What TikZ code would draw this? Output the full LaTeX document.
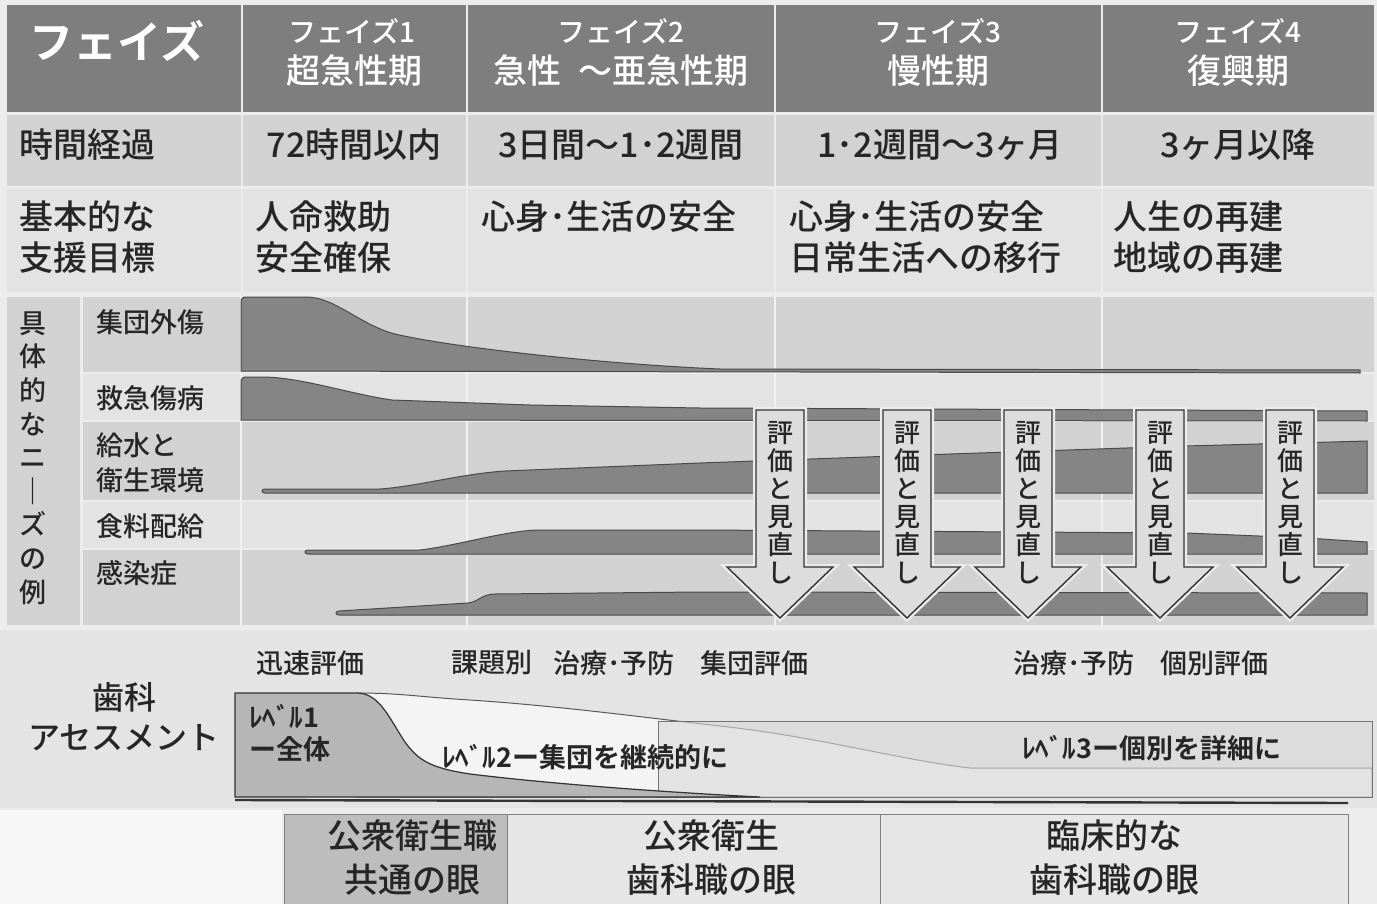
\documentclass[tikz,border=0pt]{standalone}
\usepackage{fontspec}
\setmainfont{Noto Sans CJK JP Medium}[BoldFont={Noto Sans CJK JP Bold}]
\definecolor{bg}{HTML}{ECECEC}
\definecolor{hdr}{HTML}{7E7E7E}
\definecolor{rowA}{HTML}{D2D2D2}
\definecolor{rowB}{HTML}{E3E3E3}
\definecolor{band}{HTML}{858585}
\definecolor{bandline}{HTML}{4A4A4A}
\definecolor{txt}{HTML}{262626}
\definecolor{arrowfill}{HTML}{DDDDDD}
\definecolor{lvone}{HTML}{B6B6B6}
\definecolor{lvtwo}{HTML}{F4F4F4}
\definecolor{lvthree}{HTML}{D8D8D8}
\definecolor{dentbg}{HTML}{E4E4E4}
\definecolor{eyeA}{HTML}{BDBDBD}
\definecolor{eyeB}{HTML}{E6E6E6}
\tikzset{
  hdrbig/.style={text=white,font=\fontsize{22pt}{26pt}\selectfont\bfseries,inner sep=0pt},
  hdrsmall/.style={text=white,font=\fontsize{14pt}{16pt}\selectfont,inner sep=0pt},
  hdrlarge/.style={text=white,font=\fontsize{17pt}{19pt}\selectfont,inner sep=0pt},
  rowtxt/.style={text=txt,font=\fontsize{17pt}{20pt}\selectfont,inner sep=0pt},
  needtxt/.style={text=txt,font=\fontsize{13.5pt}{16pt}\selectfont,inner sep=0pt,anchor=west},
  vneed/.style={text=txt,font=\fontsize{13.5pt}{16.8pt}\selectfont,inner sep=0pt,align=center},
  varrow/.style={text=txt,font=\fontsize{13pt}{14pt}\selectfont,inner sep=0pt,align=center},
  denttxt/.style={text=txt,font=\fontsize{13.5pt}{16pt}\selectfont,inner sep=0pt},
  dentbig/.style={text=txt,font=\fontsize{16pt}{19pt}\selectfont,inner sep=0pt},
  lvtxt/.style={text=txt,font=\fontsize{13.5pt}{16pt}\selectfont\bfseries,inner sep=0pt,anchor=west},
  eyetxt/.style={text=txt,font=\fontsize{17pt}{21pt}\selectfont,inner sep=0pt},
  needband/.style={fill=band,draw=bandline,line width=0.5pt},
  bigarrow/.style={fill=arrowfill,draw=black!80,line width=0.7pt},
  halo/.style={draw=bg,line width=3pt}
}
\begin{document}
\begin{tikzpicture}[x=0.5pt,y=-0.5pt]
\fill[bg] (0,0) rectangle (1377,904);
\useasboundingbox (0,0) rectangle (1377,904);
\fill[white!60!bg] (0,810) rectangle (282,904);
% header
\foreach \a/\b in {7/241,243/466,468/774,776/1101,1103/1374}{
  \fill[hdr] (\a,5) rectangle (\b,112);
  \fill[rowA] (\a,115) rectangle (\b,186);
  \fill[rowB] (\a,189) rectangle (\b,292);
}
% needs area backgrounds
\fill[rowA] (7,297) rectangle (80,625);
\fill[rowA] (83,297) rectangle (1374,372);
\fill[rowB] (83,374) rectangle (1374,420);
\fill[rowA] (83,422) rectangle (1374,500);
\fill[rowB] (83,502) rectangle (1374,548);
\fill[rowA] (83,550) rectangle (1374,625);
\foreach \x in {241,467,775,1102}{\draw[white!70!rowA,line width=1.2pt] (\x,297) -- (\x,625);}
% dental bg
\fill[dentbg] (0,630) rectangle (1377,808);

% header texts
\node[hdrbig] (ph) at (117,41) {フェイズ};
\node[hdrsmall] (p1a) at (352,31) {フェイズ1};
\node[hdrlarge] (p1b) at (354,71) {超急性期};
\node[hdrsmall] (p2a) at (621,31) {フェイズ2};
\node[hdrlarge] (p2b) at (621,71) {急性\hspace{0.5em}～亜急性期};
\node[hdrsmall] (p3a) at (938,31) {フェイズ3};
\node[hdrlarge] (p3b) at (938,71) {慢性期};
\node[hdrsmall] (p4a) at (1238,31) {フェイズ4};
\node[hdrlarge] (p4b) at (1238,71) {復興期};

% row 2
\node[rowtxt,anchor=west] (t0) at (19,145) {時間経過};
\node[rowtxt] (t1) at (354,145) {72時間以内};
\node[rowtxt] (t2) at (621,145) {3日間～1･2週間};
\node[rowtxt] (t3) at (940,145) {1･2週間～3ヶ月};
\node[rowtxt] (t4) at (1238,145) {3ヶ月以降};

% row 3
\node[rowtxt,anchor=west] (g0a) at (19,217) {基本的な};
\node[rowtxt,anchor=west] (g0b) at (19,258) {支援目標};
\node[rowtxt,anchor=west] (g1a) at (255,217) {人命救助};
\node[rowtxt,anchor=west] (g1b) at (255,258) {安全確保};
\node[rowtxt,anchor=west] (g2a) at (481,217) {心身･生活の安全};
\node[rowtxt,anchor=west] (g3a) at (789,217) {心身･生活の安全};
\node[rowtxt,anchor=west] (g3b) at (789,258) {日常生活への移行};
\node[rowtxt,anchor=west] (g4a) at (1113,217) {人生の再建};
\node[rowtxt,anchor=west] (g4b) at (1113,258) {地域の再建};

% needs labels
\node[vneed] (vn) at (33,458) {具\\体\\的\\な\\ニ\\｜\\ズ\\の\\例};
\node[needtxt] (n1) at (96,322) {集団外傷};
\node[needtxt] (n2) at (96,398) {救急傷病};
\node[needtxt] (n3a) at (96,445) {給水と};
\node[needtxt] (n3b) at (96,480) {衛生環境};
\node[needtxt] (n4) at (96,526) {食料配給};
\node[needtxt] (n5) at (96,573) {感染症};

% need bands
\draw[needband] (241,371) -- (241,302) .. controls (241,298) and (243,297) .. (247,297) -- (306,297)
  .. controls (335,297) and (360,325) .. (395,334) .. controls (450,347) and (600,364) .. (720,369)
  -- (1360,370) -- (1360,373) -- cycle;
\draw[needband] (241,420) -- (241,382) .. controls (241,378) and (243,377) .. (248,377) -- (262,377)
  .. controls (300,377) and (350,394) .. (392,400) -- (530,405) -- (700,408) -- (1367,411) -- (1367,421) -- cycle;
\draw[needband] (265,493) .. controls (261,493) and (261,489) .. (265,489) -- (380,489)
  .. controls (420,486) and (460,474) .. (505,471) -- (700,463) -- (950,454) -- (1186,446) -- (1367,441) -- (1367,493) -- cycle;
\draw[needband] (308,554) .. controls (304,554) and (304,550) .. (308,550) -- (420,550)
  .. controls (460,545) and (500,532) .. (536,530) -- (700,530) -- (1186,533) -- (1307,538) -- (1367,542) -- (1367,554) -- cycle;
\draw[needband] (339,615) .. controls (335,615) and (335,611) .. (339,611) -- (468,603)
  .. controls (478,602) and (482,594) .. (495,594) -- (700,592) -- (1367,593) -- (1367,615) -- cycle;

% review arrows
\foreach \xc/\nm in {780/a1,907/a2,1028/a3,1160/a4,1290/a5}{
  \draw[halo] (\xc-24,410) -- (\xc+24,410) -- (\xc+24,567) -- (\xc+53,567) -- (\xc,618) -- (\xc-53,567) -- (\xc-24,567) -- cycle;
  \draw[bigarrow] (\xc-24,410) -- (\xc+24,410) -- (\xc+24,567) -- (\xc+53,567) -- (\xc,618) -- (\xc-53,567) -- (\xc-24,567) -- cycle;
  \node[varrow] (\nm) at (\xc,503) {評\\価\\と\\見\\直\\し};
}

% dental assessment
\node[dentbig] (d1) at (124,697) {歯科};
\node[dentbig] (d2) at (124,738) {アセスメント};
\node[denttxt] (e1) at (310,663) {迅速評価};
\node[denttxt,anchor=west] (e2) at (451,663) {課題別};
\node[denttxt,anchor=west] (e3) at (553,663) {治療･予防};
\node[denttxt,anchor=west] (e4) at (700,663) {集団評価};
\node[denttxt,anchor=west] (e5) at (1013,663) {治療･予防};
\node[denttxt,anchor=west] (e6) at (1160,663) {個別評価};

% level 2 area
\draw[fill=lvtwo,draw=black!65,line width=0.5pt] (357,693) .. controls (400,693) and (420,697) .. (470,700)
  .. controls (560,706) and (640,717) .. (720,726) .. controls (820,737) and (900,760) .. (970,768)
  -- (1372,768) -- (1372,797) -- (357,797) -- cycle;
% level 3 box
\draw[fill=lvthree,fill opacity=0.6,draw=black!55,line width=0.5pt] (658,721) rectangle (1372,797);
% level 1 area
\draw[fill=lvone,draw=black!80,line width=0.6pt] (235,797) -- (235,693) -- (357,693)
  .. controls (380,693) and (390,720) .. (405,742) .. controls (418,760) and (430,768) .. (470,774)
  .. controls (560,785) and (680,793) .. (760,797) -- cycle;
\draw[black!80,line width=1.2pt] (235,800) -- (1348,803);
\node[lvtxt] (l1a) at (249,717) {ﾚﾍﾞﾙ1};
\node[lvtxt] (l1b) at (249,749) {ー全体};
\node[lvtxt] (l2) at (442,757) {ﾚﾍﾞﾙ2ー集団を継続的に};
\node[lvtxt] (l3) at (1022,748) {ﾚﾍﾞﾙ3ー個別を詳細に};

% eyes boxes
\draw[fill=eyeA,draw=black!50,line width=0.5pt] (284,814) rectangle (507,906);
\draw[fill=eyeB,draw=black!50,line width=0.5pt] (507,814) rectangle (880,906);
\draw[fill=eyeB,draw=black!50,line width=0.5pt] (880,814) rectangle (1348,906);
\node[eyetxt] (y1a) at (412,836) {公衆衛生職};
\node[eyetxt] (y1b) at (412,880) {共通の眼};
\node[eyetxt] (y2a) at (711,836) {公衆衛生};
\node[eyetxt] (y2b) at (711,880) {歯科職の眼};
\node[eyetxt] (y3a) at (1114,836) {臨床的な};
\node[eyetxt] (y3b) at (1114,880) {歯科職の眼};
\end{tikzpicture}
\end{document}
